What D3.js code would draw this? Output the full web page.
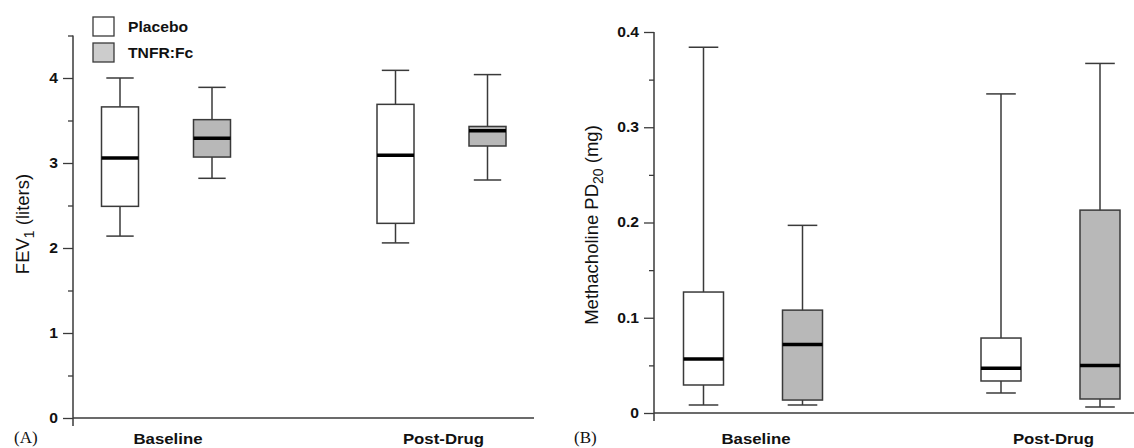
<!DOCTYPE html>
<html><head><meta charset="utf-8">
<script src="https://cdn.jsdelivr.net/npm/d3@7"></script>
<style>
body{margin:0;background:#fff;}
svg{display:block;}
</style></head>
<body><svg id="c" width="1134" height="448"></svg>
<script>
// ---- data ----
const groups = ["Baseline", "Post-Drug"];
const series = ["Placebo", "TNFR:Fc"];
// FEV1 (liters): [lowWhisker, q1, median, q3, highWhisker] per group per series
const fevPlacebo = [[2.14, 2.49, 3.06, 3.66, 4.00], [2.06, 2.29, 3.09, 3.69, 4.09]];
const fevTnfr    = [[2.82, 3.07, 3.29, 3.51, 3.89], [2.80, 3.20, 3.38, 3.43, 4.04]];
// Methacholine PD20 (mg)
const pdPlacebo = [[0.0084, 0.0294, 0.0567, 0.127, 0.384], [0.021, 0.0336, 0.047, 0.0787, 0.335]];
const pdTnfr    = [[0.0084, 0.0136, 0.072, 0.108, 0.197], [0.0063, 0.0147, 0.050, 0.213, 0.367]];
const fevTicks = [0, 1, 2, 3, 4];
const fevMinor = [0.5, 1.5, 2.5, 3.5, 4.5];
const pdTicks = [0, 0.1, 0.2, 0.3, 0.4];
const pdMinor = [0.05, 0.15, 0.25, 0.35];

const svg = d3.select("#c");
const fillOf = {"Placebo": "#ffffff", "TNFR:Fc": "#b8b8b8"};
const stroke = "#3a3a3a";
const SX = 1.12; // horizontal stretch of the source figure's text
const sans = "Liberation Sans, Arial, Helvetica, sans-serif";

function stretch(sel) {
  sel.each(function() {
    const t = d3.select(this);
    const x = +t.attr("x") || 0;
    t.attr("x", x / SX).attr("transform", `scale(${SX},1)`);
  });
}

function panel(cfg) {
  const g = svg.append("g");
  const y = d3.scaleLinear().domain(cfg.domain).range([cfg.y0, cfg.y1]);
  const x = d3.scalePoint().domain(groups).range(cfg.groupRange);
  const xs = d3.scalePoint().domain(series).range([-cfg.offset, cfg.offset]);

  // y axis major
  const ax = d3.axisLeft(y).tickValues(cfg.ticks).tickSize(10).tickPadding(5).tickFormat(cfg.fmt);
  const ga = g.append("g").attr("transform", `translate(${cfg.x0},0)`).call(ax);
  ga.select(".domain").remove();
  ga.selectAll(".tick line").attr("stroke", stroke).attr("stroke-width", 1.3);
  ga.selectAll(".tick text").attr("font-family", sans)
    .attr("font-weight", "bold").attr("font-size", 14).attr("fill", "#111").call(stretch);
  // minor ticks
  const am = d3.axisLeft(y).tickValues(cfg.minor).tickSize(5).tickFormat("");
  const gm = g.append("g").attr("transform", `translate(${cfg.x0},0)`).call(am);
  gm.select(".domain").remove();
  gm.selectAll(".tick line").attr("stroke", stroke).attr("stroke-width", 1.3);
  // vertical axis line
  g.append("line").attr("x1", cfg.x0).attr("x2", cfg.x0)
    .attr("y1", y(cfg.domain[1])).attr("y2", y(0) + 8)
    .attr("stroke", stroke).attr("stroke-width", 1.5);
  // horizontal axis line
  g.append("line").attr("x1", cfg.x0).attr("x2", cfg.xEnd)
    .attr("y1", y(0)).attr("y2", y(0))
    .attr("stroke", stroke).attr("stroke-width", 1.5);

  // category labels
  g.selectAll(".cat").data(groups).enter().append("text")
    .attr("x", d => x(d) + cfg.labelShift).attr("y", cfg.labelY)
    .attr("text-anchor", "middle")
    .attr("font-family", sans)
    .attr("font-weight", "bold").attr("font-size", 15).attr("fill", "#111")
    .text(d => d).call(stretch);

  // boxes
  const bw = cfg.boxW, cw = bw * 0.74;
  series.forEach((s, si) => {
    const vals = cfg.data[si];
    groups.forEach((gr, gi) => {
      const [lo, q1, md, q3, hi] = vals[gi];
      const cx = x(gr) + xs(s);
      const b = g.append("g");
      b.append("line").attr("x1", cx).attr("x2", cx).attr("y1", y(hi)).attr("y2", y(lo))
        .attr("stroke", stroke).attr("stroke-width", 1.5);
      [hi, lo].forEach(v => b.append("line").attr("x1", cx - cw/2).attr("x2", cx + cw/2)
        .attr("y1", y(v)).attr("y2", y(v)).attr("stroke", stroke).attr("stroke-width", 1.5));
      b.append("rect").attr("x", cx - bw/2).attr("width", bw)
        .attr("y", y(q3)).attr("height", y(q1) - y(q3))
        .attr("fill", fillOf[s]).attr("stroke", stroke).attr("stroke-width", 1.5);
      b.append("line").attr("x1", cx - bw/2).attr("x2", cx + bw/2)
        .attr("y1", y(md)).attr("y2", y(md)).attr("stroke", "#000").attr("stroke-width", 3.5);
    });
  });

  // y title
  const t = g.append("text")
    .attr("transform", `translate(${cfg.titleX},${cfg.titleY}) rotate(-90)`)
    .attr("text-anchor", "middle")
    .attr("font-family", sans)
    .attr("font-size", 18.5).attr("fill", "#111");
  t.append("tspan").text(cfg.title[0]);
  t.append("tspan").attr("font-size", 14).attr("dy", 5).text(cfg.title[1]);
  t.append("tspan").attr("dy", -5).text(cfg.title[2]);

  // panel letter
  g.append("text").attr("x", cfg.letterX).attr("y", 443)
    .attr("font-family", "Liberation Serif, Times New Roman, serif")
    .attr("font-size", 17).attr("fill", "#111").text(cfg.letter);
  return g;
}

panel({
  domain: [0, 4.5], y0: 418, y1: 35.5, x0: 73, xEnd: 534,
  groupRange: [166, 441.5], offset: 46, boxW: 37,
  ticks: fevTicks, minor: fevMinor, fmt: d3.format("d"),
  data: [fevPlacebo, fevTnfr], labelY: 444, labelShift: 2,
  title: ["FEV", "1", " (liters)"], titleX: 29, titleY: 224,
  letter: "(A)", letterX: 14
});
panel({
  domain: [0, 0.4], y0: 413, y1: 32, x0: 654, xEnd: 1134,
  groupRange: [753, 1050.5], offset: 49.5, boxW: 40,
  ticks: pdTicks, minor: pdMinor, fmt: d => d === 0 ? "0" : d3.format(".1f")(d),
  data: [pdPlacebo, pdTnfr], labelY: 444, labelShift: 3,
  title: ["Methacholine PD", "20", " (mg)"], titleX: 598, titleY: 225,
  letter: "(B)", letterX: 574
});

// legend (panel A)
const leg = svg.append("g");
series.forEach((s, i) => {
  leg.append("rect").attr("x", 93).attr("y", 17 + i * 26).attr("width", 21).attr("height", 19)
    .attr("fill", s === "Placebo" ? "#ffffff" : "#cccccc").attr("stroke", stroke).attr("stroke-width", 1.3);
  leg.append("text").attr("x", 128).attr("y", 32 + i * 26)
    .attr("font-family", sans)
    .attr("font-weight", "bold").attr("font-size", 14).attr("fill", "#111").text(s).call(stretch);
});
</script></body></html>
